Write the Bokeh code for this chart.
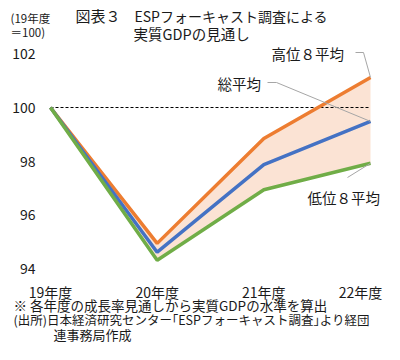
from bokeh.plotting import figure
from bokeh.models import Label, Range1d, ColumnDataSource
from bokeh.core.properties import value
from bokeh.embed import file_html
from bokeh.resources import INLINE

years = ["19年度", "20年度", "21年度", "22年度"]
high8 = [100.0, 94.93, 98.84, 101.12]
total = [100.0, 94.60, 97.87, 99.48]
low8 = [100.0, 94.30, 96.93, 97.92]
yticks = [94, 96, 98, 100, 102]

FONT = "Noto Sans CJK JP"
TXT = "#1a1a1a"
xs = list(range(len(years)))


# pixel position helpers for text placement (picture pixels -> data units)
def X(px):
    return (px - 50) / 106.67


def Y(py):
    return 100 - (py - 107) / 26.8


p = figure(width=384, height=344, output_backend="svg", toolbar_location=None,
           x_range=Range1d(X(0), X(384)), y_range=Range1d(Y(344), Y(0)),
           x_axis_type=None, y_axis_type=None, min_border=0)
p.title.visible = False
p.outline_line_color = None
p.grid.visible = False

# band and lines
p.varea(x=xs, y1=low8, y2=high8, fill_color="#FBE3D4", fill_alpha=1.0)
p.line(x=[xs[0], xs[-1]], y=[100, 100], line_color="black", line_dash="3 2", line_width=1)
p.line(x=xs, y=high8, line_color="#ED7D31", line_width=3.5)
p.line(x=xs, y=total, line_color="#4472C4", line_width=3.5)
p.line(x=xs, y=low8, line_color="#70AD47", line_width=3.5)

# tick labels
ysrc = ColumnDataSource(dict(x=[X(35)] * len(yticks), y=yticks, t=[str(v) for v in yticks]))
p.text(x="x", y="y", text="t", source=ysrc, text_font=value(FONT), text_font_size="14px",
       text_align="right", text_baseline="middle", text_color=TXT)
x_label_shift = [0, 0, 0, -10]  # keep the last label inside the canvas
xsrc = ColumnDataSource(dict(x=xs, y=[Y(291)] * len(xs), t=years, xo=x_label_shift))
p.text(x="x", y="y", text="t", x_offset="xo", source=xsrc, text_font=value(FONT),
       text_font_size="14px", text_align="center", text_baseline="middle", text_color=TXT)


def lab(text, px, py, size):
    p.add_layout(Label(x=X(px), y=Y(py), text=text, text_font=FONT, text_font_size=size,
                       text_baseline="middle", text_align="left", text_color=TXT))


# header
lab("図表３", 75, 15, "15px")
lab("ESPフォーキャスト調査による", 134, 15, "14px")
lab("実質GDPの見通し", 133, 33, "14.5px")
lab("(19年度", 10, 17, "11.5px")
lab("＝100)", 10, 31, "11.5px")

# series labels
lab("高位８平均", 271, 53, "14.5px")
lab("総平均", 217, 83, "14.5px")
lab("低位８平均", 307, 197, "14.5px")

lc = "#A6A6A6"
last = xs[-1]
p.line(x=[X(355), X(363), last], y=[Y(52), Y(52), high8[-1]], line_color=lc, line_width=1)
p.line(x=[X(267), X(276), last], y=[Y(82), Y(82), total[-1]], line_color=lc, line_width=1)
p.line(x=[X(347), last], y=[Y(177), low8[-1]], line_color=lc, line_width=1)

# footer
lab("※ 各年度の成長率見通しから実質GDPの水準を算出", 13, 304.5, "13.5px")
lab("(出所)日本経済研究センター｢ESPフォーキャスト調査｣より経団", 13, 319, "12.5px")
lab("連事務局作成", 53, 333.5, "13px")

open("out.html", "w").write(file_html(p, INLINE))
